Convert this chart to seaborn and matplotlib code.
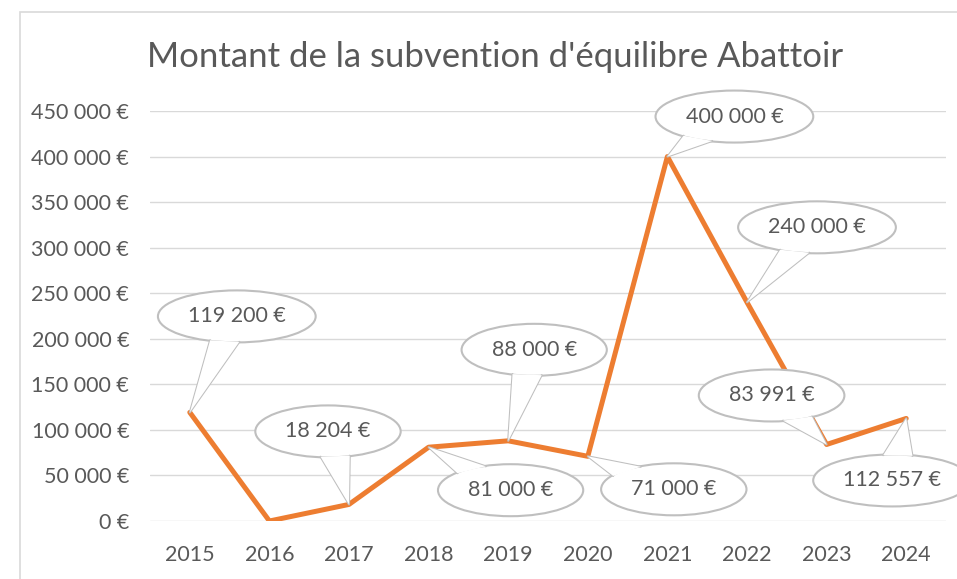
import matplotlib
matplotlib.use('Agg')
import matplotlib.pyplot as plt
import seaborn as sns
import numpy as np
import pandas as pd
from matplotlib.patches import Ellipse, Polygon, Rectangle
from matplotlib.ticker import FuncFormatter

# data
years = ['2015', '2016', '2017', '2018', '2019', '2020', '2021', '2022', '2023', '2024']
montants = [119200, 0, 18204, 81000, 88000, 71000, 400000, 240000, 83991, 112557]
show_label = [True, False, True, True, True, True, True, True, True, True]
# callout centre offsets from the point, in pixels (dx, dy up)
callout_offsets = [(47, 96), (0, 0), (-21, 73), (82, -43), (26, 91),
                   (86, -33), (67, 40), (70, 75), (-55, 49), (-14, -62)]

TEXT = '#595959'
GRID = '#d9d9d9'
ORANGE = '#ED7D31'
EDGE = '#bfbfbf'

sns.set_style("white")
plt.rcParams['font.family'] = ['Lato', 'DejaVu Sans']


def euro(v, pos=None):
    return f"{int(round(v)):,}".replace(',', ' ') + ' €'


df = pd.DataFrame({'idx': np.arange(len(years)), 'montant': montants})

fig = plt.figure(figsize=(9.57, 5.79), dpi=100)
ax = fig.add_axes([150 / 957, 1 - 521 / 579, 796 / 957, 410 / 579])

# outer chart frame
fig.patches.append(Rectangle((20 / 957, -0.05), 1.0, 1 - 12 / 579 + 0.05,
                             transform=fig.transFigure, fill=False,
                             edgecolor=GRID, linewidth=1.2))

sns.lineplot(data=df, x='idx', y='montant', color=ORANGE, linewidth=3.6,
             ax=ax, zorder=3)

ax.set_xlim(-0.5, len(years) - 0.5)
ax.set_ylim(0, 450000)
ax.set_yticks(np.arange(0, 450001, 50000))
ax.yaxis.set_major_formatter(FuncFormatter(euro))
ax.set_xticks(df['idx'])
ax.set_xticklabels(years)
ax.set_xlabel('')
ax.set_ylabel('')
ax.grid(axis='y', color=GRID, linewidth=1.0, zorder=0)
ax.set_axisbelow(True)
for s in ax.spines.values():
    s.set_visible(False)
ax.tick_params(axis='both', length=0, labelsize=15.5, colors=TEXT)
ax.tick_params(axis='y', pad=15)
ax.tick_params(axis='x', pad=17)

fig.text(495 / 957, 1 - 57 / 579, "Montant de la subvention d'équilibre Abattoir",
         ha='center', va='center', fontsize=25, color=TEXT)

# callouts drawn in pixel (display) coordinates
fig.canvas.draw()
renderer = fig.canvas.get_renderer()
for i, (v, show, (dx, dy)) in enumerate(zip(montants, show_label, callout_offsets)):
    if not show:
        continue
    px, py = ax.transData.transform((i, v))
    cx, cy = px + dx, py + dy
    t = fig.text(cx, cy, euro(v), transform=None, ha='center', va='center',
                 fontsize=15.5, color=TEXT, zorder=12)
    tw = t.get_window_extent(renderer).width
    w, h = tw + 60, 52
    a, b = w / 2, h / 2
    ell = Ellipse((cx, cy), w, h, transform=None, facecolor='white',
                  edgecolor=EDGE, linewidth=1.5, zorder=10)
    fig.patches.append(ell)
    ang = np.arctan2((py - cy) / b, (px - cx) / a)
    speed = np.hypot(a * np.sin(ang), b * np.cos(ang))
    d = 15 / speed
    b1 = (cx + a * np.cos(ang - d) * 0.98, cy + b * np.sin(ang - d) * 0.98)
    b2 = (cx + a * np.cos(ang + d) * 0.98, cy + b * np.sin(ang + d) * 0.98)
    tri = Polygon([b1, (px, py), b2], closed=True, transform=None,
                  facecolor='white', edgecolor='none', zorder=11)
    fig.patches.append(tri)
    fig.lines.append(plt.Line2D([b1[0], px, b2[0]], [b1[1], py, b2[1]],
                                transform=None, color=EDGE, linewidth=1.5,
                                zorder=11))

fig.savefig('out.png', dpi=100, facecolor='white')
